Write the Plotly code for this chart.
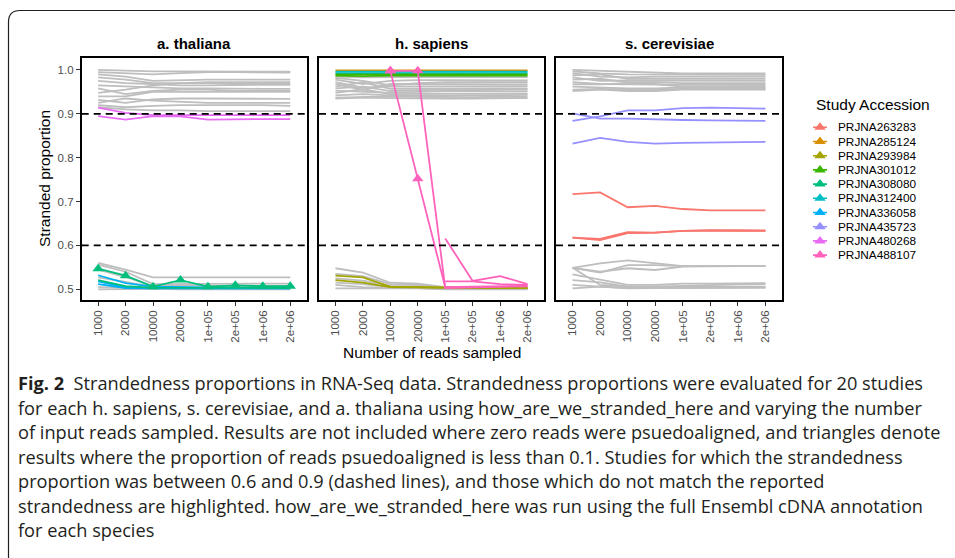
import plotly.graph_objects as go

# ---------------- data ----------------
cats = ["1000", "2000", "10000", "20000", "1e+05", "2e+05", "1e+06", "2e+06"]
panel_titles = ["a. thaliana", "h. sapiens", "s. cerevisiae"]
accessions = ["PRJNA263283", "PRJNA285124", "PRJNA293984", "PRJNA301012", "PRJNA308080",
              "PRJNA312400", "PRJNA336058", "PRJNA435723", "PRJNA480268", "PRJNA488107"]
acc_colors = ["#F8766D", "#D89000", "#A3A500", "#39B600", "#00BF7D",
              "#00BFC4", "#00B0F6", "#9590FF", "#E76BF3", "#FF62BC"]
y_ticks = [0.5, 0.6, 0.7, 0.8, 0.9, 1.0]
thresholds = [0.6, 0.9]

# a. thaliana
ath_gray = [
    [1.000, 0.998, 0.997, 0.997, 0.997, 0.997, 0.997, 0.996],
    [0.995, 0.993, 0.990, 0.993, 0.995, 0.995, 0.994, 0.994],
    [0.990, 0.985, 0.975, 0.977, 0.978, 0.978, 0.978, 0.978],
    [0.983, 0.978, 0.970, 0.970, 0.972, 0.972, 0.971, 0.972],
    [0.975, 0.970, 0.968, 0.965, 0.965, 0.966, 0.966, 0.966],
    [0.965, 0.963, 0.960, 0.958, 0.958, 0.957, 0.957, 0.957],
    [0.958, 0.945, 0.952, 0.955, 0.955, 0.952, 0.952, 0.952],
    [0.948, 0.955, 0.965, 0.970, 0.970, 0.968, 0.968, 0.968],
    [0.940, 0.940, 0.950, 0.950, 0.951, 0.950, 0.950, 0.950],
    [0.932, 0.925, 0.933, 0.935, 0.935, 0.935, 0.934, 0.934],
    [0.925, 0.935, 0.930, 0.928, 0.925, 0.925, 0.925, 0.925],
    [0.920, 0.915, 0.918, 0.920, 0.920, 0.920, 0.920, 0.918],
    [0.915, 0.910, 0.908, 0.908, 0.906, 0.906, 0.906, 0.906],
    [0.560, 0.545, 0.527, 0.527, 0.527, 0.527, 0.527, 0.527],
    [0.556, 0.540, 0.512, 0.512, 0.513, 0.513, 0.513, 0.513],
    [0.545, 0.528, 0.507, 0.510, 0.508, 0.508, 0.508, 0.508],
    [0.527, 0.517, 0.505, 0.503, 0.503, 0.503, 0.503, 0.503],
    [0.505, 0.503, 0.502, 0.502, 0.501, 0.501, 0.501, 0.501],
    [0.500, 0.501, 0.501, 0.500, 0.500, 0.500, 0.500, 0.500],
]
ath_480268 = [
    [0.914, 0.902, 0.897, 0.897, 0.896, 0.897, 0.897, 0.897],
    [0.895, 0.887, 0.895, 0.894, 0.887, 0.888, 0.888, 0.888],
]
ath_336058 = [
    [0.532, 0.514, 0.506, 0.505, 0.504, 0.504, 0.504, 0.504],
    [0.518, 0.504, 0.503, 0.503, 0.502, 0.502, 0.502, 0.502],
    [0.512, 0.503, 0.502, 0.502, 0.501, 0.502, 0.502, 0.502],
]
ath_308080 = [
    [0.547, 0.531, 0.506, 0.521, 0.506, 0.509, 0.507, 0.507],
    [0.521, 0.507, 0.504, 0.504, 0.503, 0.503, 0.503, 0.503],
]
ath_308080_tri = [[0, 1, 2, 3, 4, 5, 6, 7], []]

# h. sapiens
hsa_gray = [
    [0.985, 0.983, 0.984, 0.984, 0.984, 0.984, 0.984, 0.984],
    [0.982, 0.975, 0.965, 0.970, 0.972, 0.972, 0.972, 0.972],
    [0.978, 0.968, 0.975, 0.977, 0.977, 0.976, 0.976, 0.976],
    [0.972, 0.960, 0.962, 0.962, 0.963, 0.963, 0.963, 0.963],
    [0.968, 0.955, 0.968, 0.968, 0.967, 0.967, 0.967, 0.967],
    [0.962, 0.972, 0.957, 0.957, 0.958, 0.958, 0.958, 0.958],
    [0.958, 0.962, 0.952, 0.954, 0.955, 0.955, 0.955, 0.955],
    [0.953, 0.950, 0.948, 0.950, 0.952, 0.952, 0.951, 0.951],
    [0.948, 0.956, 0.945, 0.946, 0.946, 0.946, 0.946, 0.946],
    [0.942, 0.945, 0.942, 0.942, 0.943, 0.943, 0.943, 0.943],
    [0.937, 0.938, 0.940, 0.939, 0.938, 0.938, 0.939, 0.939],
    [0.935, 0.937, 0.936, 0.935, 0.935, 0.935, 0.936, 0.936],
    [0.548, 0.538, 0.515, 0.513, 0.505, 0.505, 0.505, 0.505],
    [0.535, 0.530, 0.512, 0.510, 0.503, 0.503, 0.503, 0.503],
    [0.525, 0.520, 0.508, 0.507, 0.502, 0.502, 0.502, 0.502],
    [0.515, 0.512, 0.505, 0.505, 0.502, 0.501, 0.501, 0.501],
    [0.510, 0.505, 0.503, 0.503, 0.501, 0.501, 0.501, 0.501],
    [0.502, 0.502, 0.502, 0.502, 0.500, 0.500, 0.500, 0.500],
]
hsa_285124 = [[0.999, 0.999, 0.999, 0.999, 0.999, 0.999, 0.999, 0.999]]
hsa_312400 = [
    [0.996, 0.996, 0.996, 0.996, 0.996, 0.996, 0.996, 0.996],
    [0.993, 0.993, 0.993, 0.993, 0.993, 0.993, 0.993, 0.993],
]
hsa_301012 = [
    [0.990, 0.990, 0.989, 0.989, 0.989, 0.990, 0.990, 0.990],
    [0.987, 0.986, 0.987, 0.987, 0.987, 0.987, 0.987, 0.987],
]
hsa_293984 = [
    [0.531, 0.527, 0.506, 0.505, 0.503, 0.503, 0.503, 0.503],
    [0.521, 0.515, 0.505, 0.504, 0.503, 0.503, 0.503, 0.503],
]
hsa_488107 = [
    [None, None, 0.998, 0.998, 0.503, 0.504, 0.505, 0.507],
    [None, None, 0.998, 0.752, 0.505, 0.506, 0.507, 0.508],
    [None, None, None, None, 0.616, 0.519, 0.530, 0.512],
    [None, None, None, None, 0.518, 0.518, 0.512, 0.510],
]
hsa_488107_tri = [[2, 3], [2, 3], [], []]

# s. cerevisiae
sce_gray = [
    [1.000, 0.998, 0.995, 0.993, 0.992, 0.992, 0.992, 0.992],
    [0.997, 0.992, 0.990, 0.990, 0.990, 0.989, 0.989, 0.989],
    [0.993, 0.985, 0.983, 0.985, 0.985, 0.985, 0.985, 0.985],
    [0.988, 0.990, 0.980, 0.980, 0.981, 0.980, 0.980, 0.980],
    [0.983, 0.975, 0.976, 0.976, 0.975, 0.975, 0.975, 0.975],
    [0.978, 0.980, 0.972, 0.972, 0.970, 0.970, 0.970, 0.970],
    [0.972, 0.968, 0.967, 0.966, 0.966, 0.966, 0.966, 0.966],
    [0.967, 0.967, 0.970, 0.968, 0.962, 0.962, 0.963, 0.963],
    [0.962, 0.960, 0.958, 0.958, 0.960, 0.960, 0.960, 0.960],
    [0.955, 0.957, 0.955, 0.955, 0.957, 0.957, 0.957, 0.957],
    [0.952, 0.955, 0.952, 0.952, 0.955, 0.955, 0.955, 0.955],
    [0.549, 0.559, 0.566, 0.559, 0.553, 0.553, 0.553, 0.553],
    [0.549, 0.538, 0.555, 0.555, 0.553, 0.553, 0.553, 0.553],
    [0.549, 0.540, 0.548, 0.544, 0.552, 0.553, 0.553, 0.553],
    [0.549, 0.510, 0.506, 0.506, 0.506, 0.506, 0.506, 0.506],
    [0.534, 0.522, 0.510, 0.510, 0.513, 0.513, 0.514, 0.514],
    [0.521, 0.516, 0.506, 0.506, 0.508, 0.510, 0.511, 0.512],
    [0.510, 0.506, 0.502, 0.503, 0.503, 0.503, 0.504, 0.504],
    [0.502, 0.506, 0.503, 0.503, 0.503, 0.503, 0.504, 0.504],
]
sce_435723 = [
    [0.884, 0.894, 0.908, 0.908, 0.913, 0.914, 0.913, 0.912],
    [0.901, 0.889, 0.889, 0.887, 0.886, 0.885, 0.885, 0.884],
    [0.832, 0.845, 0.836, 0.832, 0.834, 0.835, 0.835, 0.836],
]
sce_263283 = [
    [0.717, 0.721, 0.687, 0.690, 0.683, 0.680, 0.680, 0.680],
    [0.618, 0.615, 0.630, 0.629, 0.633, 0.635, 0.634, 0.634],
    [0.618, 0.612, 0.628, 0.629, 0.633, 0.634, 0.634, 0.633],
]

caption_lines = [
    "<b>Fig. 2</b>\u00a0 Strandedness proportions in RNA-Seq data. Strandedness proportions were evaluated for 20 studies",
    "for each h. sapiens, s. cerevisiae, and a. thaliana using how_are_we_stranded_here and varying the number",
    "of input reads sampled. Results are not included where zero reads were psuedoaligned, and triangles denote",
    "results where the proportion of reads psuedoaligned is less than 0.1. Studies for which the strandedness",
    "proportion was between 0.6 and 0.9 (dashed lines), and those which do not match the reported",
    "strandedness are highlighted. how_are_we_stranded_here was run using the full Ensembl cDNA annotation",
    "for each species",
]

# ---------------- layout helpers ----------------
W, H = 955, 558
def px(x):
    return x / W
def py(y):
    return 1 - y / H

GRAY = "#BEBEBE"
LW = 1.8
FONT = "Liberation Sans, Arial, sans-serif"
CAP_FONT = "Open Sans, Noto Sans, sans-serif"

fig = go.Figure()

def add_group(series, color, col, tri=None):
    xs, ys = [], []
    for s in series:
        xs += cats + [None]
        ys += list(s) + [None]
    sfx = "" if col == 1 else str(col)
    fig.add_trace(go.Scatter(x=xs, y=ys, mode="lines", line=dict(color=color, width=LW),
                             xaxis="x" + sfx, yaxis="y" + sfx, showlegend=False,
                             hoverinfo="skip", connectgaps=False))
    if tri:
        tx, ty = [], []
        for s, idx in zip(series, tri):
            for i in idx:
                tx.append(cats[i])
                ty.append(s[i])
        if tx:
            fig.add_trace(go.Scatter(x=tx, y=ty, mode="markers",
                                     marker=dict(symbol="triangle-up", size=10, color=color,
                                                 line=dict(width=0)),
                                     xaxis="x" + sfx, yaxis="y" + sfx, showlegend=False,
                                     hoverinfo="skip"))

c = dict(zip(accessions, acc_colors))
# panel 1
add_group(ath_gray, GRAY, 1)
add_group(ath_480268, c["PRJNA480268"], 1)
add_group(ath_336058, c["PRJNA336058"], 1)
add_group(ath_308080, c["PRJNA308080"], 1, ath_308080_tri)
# panel 2
add_group(hsa_gray, GRAY, 2)
add_group(hsa_293984, c["PRJNA293984"], 2)
add_group(hsa_285124, c["PRJNA285124"], 2)
add_group(hsa_312400, c["PRJNA312400"], 2)
add_group(hsa_301012, c["PRJNA301012"], 2)
add_group(hsa_488107, c["PRJNA488107"], 2, hsa_488107_tri)
# panel 3
add_group(sce_gray, GRAY, 3)
add_group(sce_435723, c["PRJNA435723"], 3)
add_group(sce_263283, c["PRJNA263283"], 3)

# legend keys drawn on a hidden helper axis (1 unit = 1 px horizontally)
for i, (acc, col) in enumerate(zip(accessions, acc_colors)):
    fig.add_trace(go.Scatter(x=[820], y=[i], mode="markers",
                             marker=dict(symbol="triangle-up", size=10, color=col),
                             error_x=dict(type="constant", value=7, thickness=1.6, width=0, color=col),
                             xaxis="x4", yaxis="y4", showlegend=False, hoverinfo="skip"))

x_domains = [(81.7, 306.7), (319.0, 544.0), (556.0, 782.0)]
y_dom = [py(300.0), py(58.3)]
yr = [0.4756, 1.0266]

layout = dict(
    width=W, height=H, autosize=False,
    margin=dict(l=0, r=0, t=0, b=0),
    paper_bgcolor="white", plot_bgcolor="white",
    font=dict(family=FONT, color="black"),
    showlegend=False,
)
for k, (a, b) in enumerate(x_domains, start=1):
    sfx = "" if k == 1 else str(k)
    layout["xaxis" + sfx] = dict(
        domain=[px(a), px(b)], anchor="y" + sfx, type="category",
        categoryorder="array", categoryarray=cats, range=[-0.6, 7.6],
        showline=True, mirror=True, linecolor="black", linewidth=1.6,
        ticks="outside", ticklen=4, tickwidth=1, tickcolor="#333333",
        tickangle=-90, tickfont=dict(family=FONT, size=11.5, color="#4D4D4D"),
        showgrid=False, zeroline=False, fixedrange=True)
    layout["yaxis" + sfx] = dict(
        domain=y_dom, anchor="x" + sfx, range=yr,
        showline=True, mirror=True, linecolor="black", linewidth=1.6,
        ticks="outside" if k == 1 else "", ticklen=4, tickwidth=1, tickcolor="#333333",
        tickvals=y_ticks, ticktext=[f"{v:.1f}" for v in y_ticks],
        showticklabels=(k == 1),
        tickfont=dict(family=FONT, size=11.5, color="#4D4D4D"),
        showgrid=False, zeroline=False, fixedrange=True)

layout["xaxis4"] = dict(domain=[px(805), 1.0], range=[805, 955], anchor="y4", visible=False, fixedrange=True)
layout["yaxis4"] = dict(domain=[py(262.2), py(120.2)], range=[len(accessions) - 0.5, -0.5],
                        anchor="x4", visible=False, fixedrange=True)

shapes = []
for k in range(1, 4):
    sfx = "" if k == 1 else str(k)
    for t in thresholds:
        shapes.append(dict(type="line", xref="x" + sfx + " domain", x0=0, x1=1,
                           yref="y" + sfx, y0=t, y1=t, layer="above",
                           line=dict(color="black", width=1.8, dash="7px,5px")))
# outer caption frame with rounded top-left corner
shapes.append(dict(type="path", xref="paper", yref="paper", layer="below",
                   path=f"M {px(8.5)},{py(560)} L {px(8.5)},{py(22)} Q {px(8.5)},{py(10.5)} {px(20)},{py(10.5)} L {px(960)},{py(10.5)}",
                   line=dict(color="#231F20", width=1.2)))
layout["shapes"] = shapes

ann = []
for (a, b), t in zip(x_domains, panel_titles):
    ann.append(dict(text=f"<b>{t}</b>", x=px((a + b) / 2), y=py(43), xref="paper", yref="paper",
                    xanchor="center", yanchor="middle", showarrow=False,
                    font=dict(family=FONT, size=15, color="black")))
ann.append(dict(text="Stranded proportion", x=px(45), y=py(179), xref="paper", yref="paper",
                textangle=-90, xanchor="center", yanchor="middle", showarrow=False,
                font=dict(family=FONT, size=15.5, color="black")))
ann.append(dict(text="Number of reads sampled", x=px(431.5), y=py(352), xref="paper", yref="paper",
                xanchor="center", yanchor="middle", showarrow=False,
                font=dict(family=FONT, size=15.5, color="black")))
ann.append(dict(text="Study Accession", x=px(814), y=py(104.5), xref="paper", yref="paper",
                xanchor="left", yanchor="middle", showarrow=False,
                font=dict(family=FONT, size=15.5, color="black")))
for i, acc in enumerate(accessions):
    ann.append(dict(text=acc, x=836, y=i, xref="x4", yref="y4", xanchor="left", yanchor="middle",
                    showarrow=False, font=dict(family=FONT, size=11.8, color="black")))
for i, line in enumerate(caption_lines):
    ann.append(dict(text=line, x=px(16), y=py(383 + 24.5 * i), xref="paper", yref="paper",
                    xanchor="left", yanchor="middle", showarrow=False,
                    font=dict(family=CAP_FONT, size=18.2, color="#231F20")))
layout["annotations"] = ann

fig.update_layout(**layout)
fig.write_html("out.html", config={"displayModeBar": False},
               post_script="document.body.style.margin='0';document.body.style.padding='0';")
